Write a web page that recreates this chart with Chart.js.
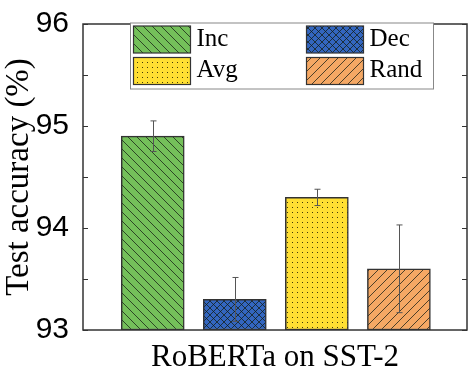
<!DOCTYPE html>
<html>
<head>
<meta charset="utf-8">
<script src="https://cdn.jsdelivr.net/npm/chart.js@4.4.1/dist/chart.umd.min.js"></script>
<style>
  html, body { margin: 0; padding: 0; background: #fff; }
  #wrap { width: 471px; height: 376px; }
</style>
</head>
<body>
<div id="wrap"><canvas id="accChart" width="471" height="376"></canvas></div>
<script>
// ----- data -----
const methods = ['Inc', 'Dec', 'Avg', 'Rand'];
const accuracy = [94.9, 93.3, 94.3, 93.6];
const errors = [0.15, 0.215, 0.08, 0.43];
const yTicks = [93, 94, 95, 96];
const minorTicks = [93.5, 94.5, 95.5];

const baseColors = ['#74c05a', '#3366c0', '#ffdf33', '#f5a864'];

// ----- hatch patterns -----
function makePattern(kind, color) {
    const c = document.createElement('canvas');
    const size = kind === 'dots' ? 5 : (kind === 'cross' ? 7 : 9);
    c.width = size; c.height = size;
    const g = c.getContext('2d');
    g.fillStyle = color;
    g.fillRect(0, 0, size, size);
    g.strokeStyle = 'rgba(20,30,20,0.75)';
    g.lineWidth = 1;
    if (kind === 'back' || kind === 'cross') {
        g.beginPath();
        g.moveTo(-1, -1); g.lineTo(size + 1, size + 1);
        g.stroke();
    }
    if (kind === 'fwd' || kind === 'cross') {
        g.beginPath();
        g.moveTo(-1, size + 1); g.lineTo(size + 1, -1);
        g.stroke();
    }
    if (kind === 'dots') {
        g.fillStyle = 'rgba(30,30,0,0.85)';
        g.fillRect(2, 2, 1, 1);
    }
    return g.createPattern(c, 'repeat');
}

const kinds = ['back', 'cross', 'dots', 'fwd'];
const ctx = document.getElementById('accChart').getContext('2d');
const fills = methods.map((m, i) => makePattern(kinds[i], baseColors[i]));

// ----- error bars -----
const errorBars = {
    id: 'errorBars',
    afterDatasetsDraw(chart) {
        const c = chart.ctx, xs = chart.scales.x, ys = chart.scales.y;
        c.save();
        c.strokeStyle = '#555';
        c.lineWidth = 1;
        accuracy.forEach((v, i) => {
            const x = Math.round(xs.getPixelForValue(i + 1)) + 0.5;
            const y1 = ys.getPixelForValue(v + errors[i]);
            const y2 = ys.getPixelForValue(v - errors[i]);
            c.beginPath();
            c.moveTo(x, y1); c.lineTo(x, y2);
            c.moveTo(x - 3, y1); c.lineTo(x + 3, y1);
            c.moveTo(x - 3, y2); c.lineTo(x + 3, y2);
            c.stroke();
        });
        c.restore();
    }
};

// ----- frame + inward ticks + legend -----
const frameAndLegend = {
    id: 'frameAndLegend',
    afterDraw(chart) {
        const c = chart.ctx, a = chart.chartArea, ys = chart.scales.y;
        c.save();
        c.strokeStyle = '#333';
        c.lineWidth = 1.5;
        c.strokeRect(a.left, a.top, a.right - a.left, a.bottom - a.top);
        c.lineWidth = 1;
        yTicks.concat(minorTicks).forEach(t => {
            const y = Math.round(ys.getPixelForValue(t)) + 0.5;
            const len = 5;
            c.beginPath();
            c.moveTo(a.left, y); c.lineTo(a.left + len, y);
            c.moveTo(a.right, y); c.lineTo(a.right - len, y);
            c.stroke();
        });

        // legend box inside plot
        const bx = 130, by = 22.5, bw = 303, bh = 66;
        c.fillStyle = '#fff';
        c.fillRect(bx, by, bw, bh);
        c.strokeStyle = '#888';
        c.lineWidth = 1;
        c.strokeRect(bx + 0.5, by + 0.5, bw, bh);
        c.font = '25px "Liberation Serif", serif';
        c.textBaseline = 'middle';
        chart.data.datasets.forEach((ds, i) => {
            const col = i % 2, row = Math.floor(i / 2);
            const sx = col === 0 ? 133.5 : 306.5;
            const sy = row === 0 ? 26 : 57.5;
            c.fillStyle = ds.backgroundColor;
            c.fillRect(sx, sy, 57, 27);
            c.strokeStyle = '#333';
            c.lineWidth = 1.2;
            c.strokeRect(sx, sy, 57, 27);
            c.fillStyle = '#000';
            c.fillText(ds.label, sx + 63, sy + 13);
        });
        c.restore();
    }
};

new Chart(ctx, {
    type: 'bar',
    data: {
        datasets: methods.map((m, i) => ({
            label: m,
            data: [{ x: i + 1, y: accuracy[i] }],
            backgroundColor: fills[i],
            borderColor: '#333',
            borderWidth: 1.5,
            borderSkipped: false,
            barThickness: 63,
            base: 93,
            grouped: false
        }))
    },
    options: {
        responsive: false,
        animation: false,
        layout: { padding: { top: 20, right: 4, bottom: 0, left: 0 } },
        plugins: { legend: { display: false }, tooltip: { enabled: false } },
        scales: {
            x: {
                type: 'linear',
                offset: false,
                min: 0.15, max: 4.83,
                grid: { display: false, offset: false },
                border: { display: false },
                ticks: { display: false },
                title: {
                    display: true,
                    text: 'RoBERTa on SST-2',
                    color: '#000',
                    font: { family: '"Liberation Serif", serif', size: 31 },
                    padding: { top: 0, bottom: 0 }
                },
                afterFit: s => { s.height = 46; }
            },
            y: {
                min: 93, max: 96,
                grid: { display: false },
                border: { display: false },
                ticks: {
                    stepSize: 1,
                    color: '#000',
                    padding: 6,
                    font: { family: '"Liberation Sans", Arial, sans-serif', size: 30 }
                },
                title: {
                    display: true,
                    text: 'Test accuracy (%)',
                    color: '#000',
                    font: { family: '"Liberation Serif", serif', size: 33 },
                    padding: { top: 0, bottom: 0 }
                },
                afterFit: s => { s.width = 83; }
            }
        }
    },
    plugins: [errorBars, frameAndLegend]
});
</script>
</body>
</html>
